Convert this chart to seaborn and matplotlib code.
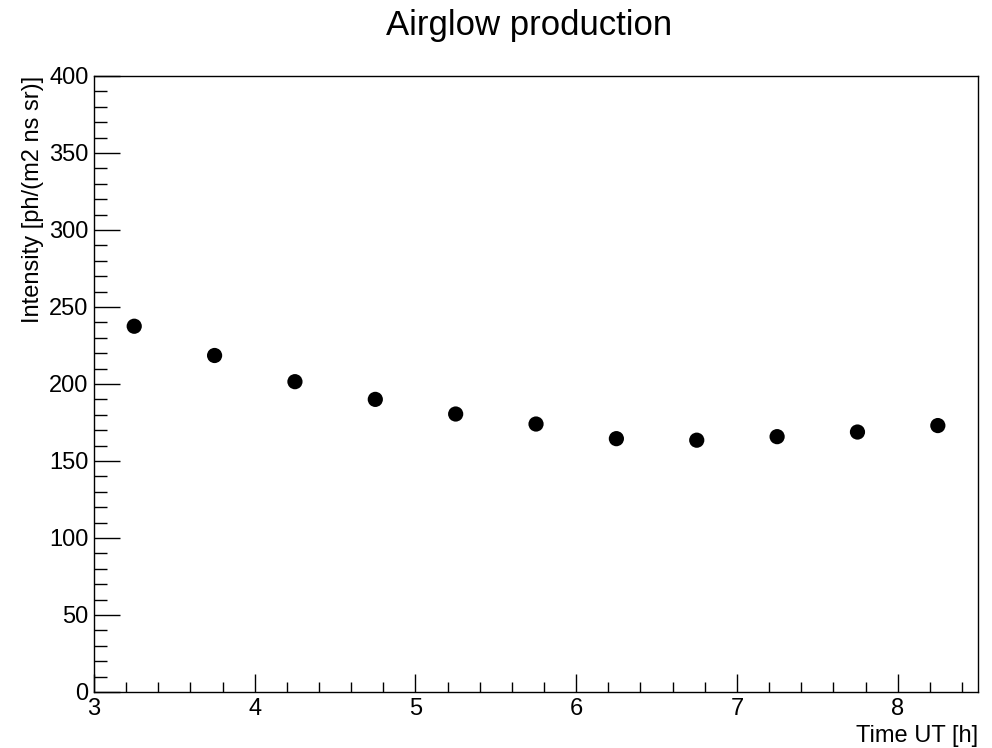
import matplotlib
matplotlib.use("Agg")
import matplotlib.pyplot as plt
from matplotlib.ticker import MultipleLocator
import seaborn as sns
import pandas as pd

# Airglow intensity samples (UT hour, intensity)
time_ut = [3.25, 3.75, 4.25, 4.75, 5.25, 5.75, 6.25, 6.75, 7.25, 7.75, 8.25]
intensity = [237.5, 218.5, 201.5, 190.0, 180.5, 174.0, 164.5, 163.5, 165.8, 168.8, 173.0]

df = pd.DataFrame({"time": time_ut, "intensity": intensity})

sns.set_style("ticks")
plt.rcParams["font.family"] = ["Liberation Sans", "DejaVu Sans"]
plt.rcParams["text.color"] = "black"
plt.rcParams["xtick.color"] = "black"
plt.rcParams["ytick.color"] = "black"
plt.rcParams["xtick.labelcolor"] = "black"
plt.rcParams["ytick.labelcolor"] = "black"

fig = plt.figure(figsize=(9.92, 7.48), dpi=100)
ax = fig.add_axes([0.0948, 0.0749, 0.8911, 0.8235])

sns.scatterplot(data=df, x="time", y="intensity", ax=ax, color="black",
                s=120, edgecolor="none", legend=False)

ax.set_xlim(3, 8.5)
ax.set_ylim(0, 400)
ax.xaxis.set_major_locator(MultipleLocator(1))
ax.xaxis.set_minor_locator(MultipleLocator(0.2))
ax.yaxis.set_major_locator(MultipleLocator(50))
ax.yaxis.set_minor_locator(MultipleLocator(10))

ax.tick_params(axis="x", which="major", direction="in", length=13, width=1,
               labelsize=17, pad=4, top=False, colors="black")
ax.tick_params(axis="x", which="minor", direction="in", length=7, width=1, top=False,
               colors="black")
ax.tick_params(axis="y", which="major", direction="in", length=19, width=1,
               labelsize=17, pad=4, right=False, colors="black")
ax.tick_params(axis="y", which="minor", direction="in", length=9.5, width=1, right=False,
               colors="black")

for sp in ax.spines.values():
    sp.set_linewidth(1.0)
    sp.set_color("black")

ax.set_xlabel("")
ax.set_ylabel("")
fig.text(0.9859, 0.001, "Time UT [h]", ha="right", va="bottom", fontsize=17, color="black")
fig.text(0.033, 0.8984, "Intensity [ph/(m2 ns sr)]", ha="center", va="top",
         rotation=90, fontsize=17, color="black")
fig.text(0.533, 0.966, "Airglow production", ha="center", va="center", fontsize=25,
         color="black")

fig.savefig("out.png", dpi=100)
